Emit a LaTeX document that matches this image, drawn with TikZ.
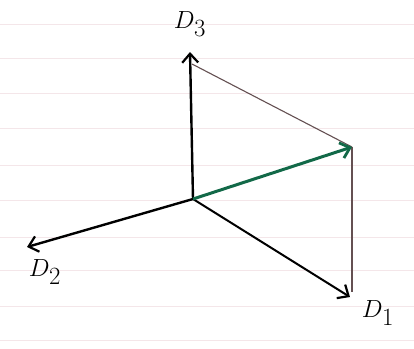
\documentclass[tikz,border=0pt]{standalone}
\usetikzlibrary{arrows.meta}
\definecolor{paperline}{RGB}{244,230,233}
\definecolor{vecgreen}{RGB}{18,105,72}
\definecolor{thinline}{RGB}{100,80,82}
\begin{document}
\begin{tikzpicture}[x=1bp,y=-1bp,
  axis/.style={line width=2.4bp,black,-{Straight Barb[length=9bp,width=16bp,line width=2.2bp]}},
  guide/.style={line width=1.1bp,thinline},
  lab/.style={font=\fontsize{38}{42}\selectfont,inner sep=0pt}]
\useasboundingbox (0,0) rectangle (414,349);
\foreach \yy in {24,58,93,128,165,200,237,270,306,340}
  \draw[paperline,line width=0.8bp] (0,\yy) -- (414,\yy);
\coordinate (O) at (193,199);
\coordinate (T3) at (190,52);
\coordinate (T2) at (27,247);
\coordinate (T1) at (350,297);
\coordinate (P) at (352,147);
\coordinate (F) at (352,292);
\coordinate (G) at (192,64);
\draw[guide] (G) -- (P);
\draw[guide] (P) -- (F);
\draw[axis] (O) -- (T3);
\draw[axis] (O) -- (T2);
\draw[axis,line width=2bp] (O) -- (T1);
\draw[line width=3bp,vecgreen,-{Straight Barb[length=9bp,width=16bp,line width=2.8bp]}] (O) -- (P);
\node[lab] (L3) at (190,24) {$D_3$};
\node[lab] (L2) at (45,272) {$D_2$};
\node[lab] (L1) at (378,313) {$D_1$};
\end{tikzpicture}
\end{document}
